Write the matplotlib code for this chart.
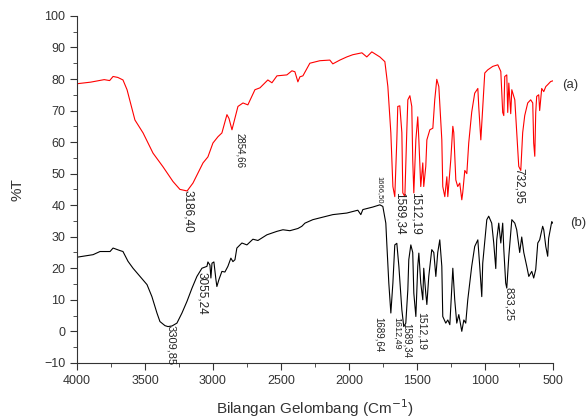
import matplotlib
matplotlib.use("Agg")
from matplotlib import pyplot as plt
from matplotlib.ticker import MultipleLocator

plt.rcParams["font.family"] = ["Liberation Sans", "DejaVu Sans"]

# spectrum (a), red
wn_a = [4000, 3900, 3800, 3760, 3735, 3700, 3662, 3632, 3574, 3514, 3441, 3368,
        3294, 3243, 3190, 3147, 3073, 3037, 3000, 2963, 2934, 2897, 2882, 2860,
        2816, 2779, 2743, 2691, 2654, 2596, 2566, 2529, 2456, 2419, 2397, 2375,
        2360, 2338, 2287, 2213, 2140, 2118, 2066, 2015, 1971, 1904, 1868, 1831,
        1772, 1735, 1713, 1691, 1676, 1662, 1647, 1640, 1625, 1610, 1603, 1588,
        1574, 1566, 1551, 1537, 1530, 1522, 1507, 1493, 1485, 1471, 1456, 1449,
        1434, 1426, 1404, 1382, 1368, 1353, 1338, 1316, 1309, 1294, 1279, 1272,
        1250, 1235, 1228, 1213, 1199, 1184, 1169, 1162, 1147, 1132, 1118, 1096,
        1074, 1051, 1044, 1029, 1015, 1000, 978, 941, 904, 882, 868, 860, 853,
        838, 831, 823, 809, 801, 779, 765, 750, 735, 721, 706, 684, 662, 647,
        640, 632, 625, 618, 603, 596, 581, 566, 551, 537, 515, 500]
t_a = [78.5, 79, 79.8, 79.5, 80.8, 80.5, 79.7, 76.6, 67, 62.9, 56.5, 52.2,
       47.5, 45, 44.5, 47, 53.4, 55.3, 59.7, 61.7, 62.9, 68.7, 67.5, 63.9,
       71.3, 72.4, 71.8, 76.6, 77.2, 79.7, 78.8, 81, 81.3, 82.6, 82.3, 79.1,
       80.7, 81, 85, 85.8, 86, 84.8, 86, 87, 87.7, 88.3, 87, 88.6,
       87, 85.5, 77.6, 62.9, 45.9, 42.7, 60.7, 71.3, 71.5, 63, 43.9, 42.7,
       63, 73.4, 74.7, 71.3, 54.4, 43.9, 60.7, 68, 60.7, 45.9, 53.4, 45.9,
       52.3, 60.7, 63.9, 64.4, 73.4, 79.9, 77.6, 60.7, 45.9, 42.7, 49, 42.7,
       54.4, 65, 63, 48, 45.9, 47, 41.7, 44, 51, 50, 59.7, 69.5,
       75.5, 77, 71, 60.7, 71, 81.9, 82.9, 84, 84.5, 82.4, 69.4, 68.4, 80.8,
       81.3, 69.4, 78.7, 69, 76.6, 73.4, 63, 52.3, 51, 63, 68.4, 72.4, 73.4, 72.4,
       59.7, 55.5, 69.4, 74.5, 75, 70, 77, 76, 77.6, 78.2, 79.2, 79.4]

# spectrum (b), black
wn_b = [4000, 3882, 3831, 3757, 3735, 3684, 3662, 3625, 3588, 3537, 3485, 3449,
        3412, 3390, 3353, 3331, 3301, 3265, 3228, 3191, 3154, 3118, 3081, 3044,
        3037, 3022, 3015, 3007, 2993, 2978, 2971, 2956, 2934, 2912, 2890, 2868,
        2853, 2838, 2824, 2787, 2750, 2706, 2669, 2603, 2529, 2485, 2434, 2375,
        2346, 2323, 2265, 2191, 2118, 2015, 1934, 1912, 1897, 1824, 1772, 1750,
        1728, 1721, 1706, 1691, 1676, 1662, 1647, 1632, 1610, 1596, 1581, 1566,
        1559, 1544, 1530, 1522, 1507, 1493, 1485, 1471, 1456, 1449, 1434, 1426,
        1412, 1390, 1375, 1360, 1346, 1331, 1316, 1309, 1287, 1272, 1257, 1235,
        1221, 1206, 1191, 1169, 1154, 1140, 1125, 1096, 1074, 1051, 1037, 1022,
        1015, 985, 971, 949, 934, 919, 912, 897, 882, 868, 860, 846, 838, 823,
        801, 779, 765, 743, 728, 713, 691, 676, 654, 640, 625, 610, 596, 574,
        566, 551, 537, 530, 507, 500]
t_b = [23.5, 24.3, 25.3, 25.3, 26.4, 25.6, 25.3, 22.2, 20, 17.4, 14.8, 11,
       5.8, 3.1, 1.8, 1.5, 1.7, 2.6, 5.8, 9.5, 13.7, 17.4, 20, 20.6,
       22, 21, 16.9, 21.6, 22, 16.4, 14.2, 16.4, 19, 18.8, 20.6, 23.2,
       22.1, 22.7, 26.4, 28, 27.4, 29.2, 28.8, 30.6, 31.7, 32.2, 31.9, 32.6,
       33.3, 34.3, 35.4, 36.2, 37, 37.5, 38.4, 37, 38.6, 39.4, 40.1, 39.6,
       34.3, 28, 15.3, 5.8, 15.3, 27.4, 27.9, 20.6, 6.8, 1.5, 2.6, 13.2,
       22.7, 27.4, 25, 12.1, 4.7, 20.6, 24.8, 15.3, 10, 20, 12, 8.5,
       17.4, 25.9, 25, 17.4, 25, 29, 20.6, 4.7, 2.6, 3.6, 2.1, 20,
       10, 2.6, 5.3, 0, 3.6, 2.6, 10, 20.6, 26.9, 29, 20.6, 11,
       21.6, 35.4, 36.5, 34.3, 28, 19.9, 29, 34.3, 28, 34.3, 26, 15.3, 13.7, 23.8,
       35.4, 34.3, 32.2, 25, 29.9, 25, 20.6, 17.4, 19, 16.9, 19.6, 28, 29, 33.3,
       32.2, 26.9, 23.8, 29.5, 34.8, 34.3]

# peak labels: text, wavenumber, top of text (%T), font size
peak_labels = ["3186,40", "2854,66", "1666,50", "1589,34", "1512,19", "732,95",
               "3309,85", "3055,24", "1689,64", "1612,49", "1589,34", "1512,19",
               "833,25"]
peak_x = [3184, 2801, 1772, 1625, 1507, 750, 3309, 3081, 1779, 1647, 1574, 1463, 824]
peak_y = [44.9, 62.9, 49.3, 44.2, 44.2, 51.8, 2.1, 18.9, 4.6, 4.6, 2.7, 6.2, 14.1]
peak_fs = [8.5, 7, 5.5, 8.5, 8.5, 8.5, 8, 8.5, 7, 6.5, 7, 7.5, 8]

fig = plt.figure(figsize=(5.88, 4.19), dpi=100)
ax = fig.add_axes([0.131, 0.134, 0.809, 0.828])

ax.plot(wn_a, t_a, color="red", linewidth=0.8)
ax.plot(wn_b, t_b, color="black", linewidth=0.8)

for lbl, x, y, fs in zip(peak_labels, peak_x, peak_y, peak_fs):
    ax.text(x, y, lbl, rotation=-90, ha="center", va="top", fontsize=fs,
            color="#222222")

ax.text(570 / 588, 1 - 85 / 419, "(a)", transform=fig.transFigure,
        ha="center", va="center", fontsize=9.5, color="#333333")
ax.text(578 / 588, 1 - 223 / 419, "(b)", transform=fig.transFigure,
        ha="center", va="center", fontsize=9.5, color="#333333")

ax.set_xlim(4000, 500)
ax.set_ylim(-10, 100)
ax.xaxis.set_major_locator(MultipleLocator(500))
ax.xaxis.set_minor_locator(MultipleLocator(250))
ax.yaxis.set_major_locator(MultipleLocator(10))
ax.yaxis.set_minor_locator(MultipleLocator(5))
ax.tick_params(which="major", direction="out", length=5, labelsize=9,
               labelcolor="#333333", color="#333333")
ax.tick_params(which="minor", direction="out", length=3, color="#333333")
for s in ["top", "right"]:
    ax.spines[s].set_visible(False)
for s in ["left", "bottom"]:
    ax.spines[s].set_color("#333333")

ax.set_xlabel("Bilangan Gelombang (Cm$^{-1}$)", fontsize=11, color="#333333",
              labelpad=8)
ax.set_ylabel("%T", fontsize=11, color="#333333", labelpad=14)

fig.savefig("out.png", dpi=100)
